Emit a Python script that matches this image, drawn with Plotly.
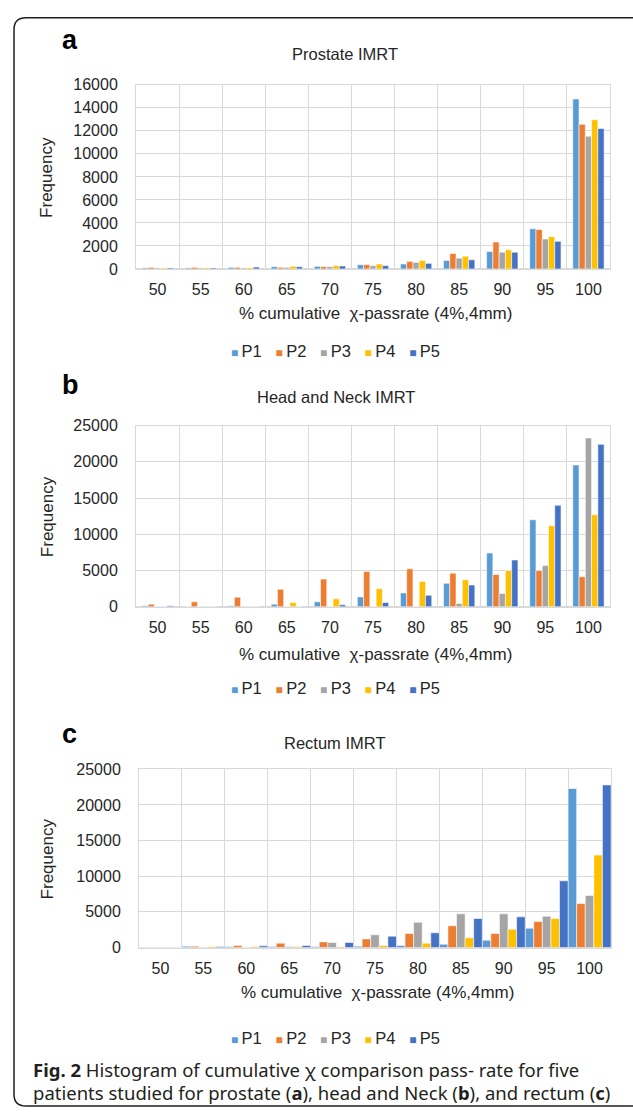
import plotly.graph_objects as go

W, H = 633, 1119

categories = ["50", "55", "60", "65", "70", "75", "80", "85", "90", "95", "100"]
series_names = ["P1", "P2", "P3", "P4", "P5"]
colors = ["#5B9BD5", "#ED7D31", "#A5A5A5", "#FFC000", "#4472C4"]

# Prostate IMRT
prostate_P1 = [90, 90, 140, 200, 230, 370, 430, 740, 1510, 3490, 14770]
prostate_P2 = [140, 140, 140, 140, 200, 370, 660, 1340, 2340, 3430, 12570]
prostate_P3 = [90, 90, 90, 140, 200, 290, 570, 940, 1460, 2600, 11540]
prostate_P4 = [90, 110, 110, 230, 290, 430, 740, 1110, 1660, 2800, 12970]
prostate_P5 = [90, 90, 170, 200, 260, 290, 490, 800, 1460, 2400, 12200]

# Head and Neck IMRT
hn_P1 = [140, 0, 140, 360, 680, 1360, 1910, 3230, 7410, 12000, 19550]
hn_P2 = [360, 680, 1320, 2410, 3820, 4860, 5230, 4640, 4450, 5000, 4140]
hn_P3 = [0, 0, 0, 0, 0, 0, 0, 450, 1820, 5680, 23270]
hn_P4 = [0, 0, 0, 590, 1090, 2500, 3500, 3730, 5000, 11180, 12680]
hn_P5 = [140, 0, 0, 0, 270, 590, 1590, 3000, 6450, 14000, 22410]

# Rectum IMRT
rectum_P1 = [0, 190, 140, 150, 140, 190, 280, 470, 1030, 2710, 22300]
rectum_P2 = [0, 190, 280, 610, 790, 1210, 1960, 3040, 1960, 3640, 6160]
rectum_P3 = [0, 0, 0, 150, 700, 1780, 3550, 4720, 4720, 4390, 7310]
rectum_P4 = [0, 140, 140, 150, 100, 280, 610, 1360, 2570, 4070, 12960]
rectum_P5 = [0, 140, 230, 280, 700, 1590, 2060, 4070, 4300, 9350, 22800]

titles = ["Prostate IMRT", "Head and Neck IMRT", "Rectum IMRT"]
letters = ["a", "b", "c"]
x_title = "% cumulative  χ-passrate (4%,4mm)"
y_title = "Frequency"
y_max = [16000, 25000, 25000]
y_step = [2000, 5000, 5000]

panel_data = [
    [prostate_P1, prostate_P2, prostate_P3, prostate_P4, prostate_P5],
    [hn_P1, hn_P2, hn_P3, hn_P4, hn_P5],
    [rectum_P1, rectum_P2, rectum_P3, rectum_P4, rectum_P5],
]


def px(x):
    return x / W


def py(y):
    return 1 - y / H


# layout geometry (pixels)
plot_x = [(136, 610), (136, 610), (139, 611)]
plot_y = [(78, 265), (424, 608), (773, 954)]
group_w = [0.727, 0.727, 1.0]
letter_pos = [(60, 33), (60, 383), (60, 737)]
title_pos = [(345, 47), (336, 395), (334, 746)]
xtitle_y = [310, 656, 1000]
legend_y = [348, 690, 1046]

GRID = "#d9d9d9"
TXT = "#262626"
FONT = "Arial, Liberation Sans, sans-serif"

fig = go.Figure()

for p in range(3):
    xa = "x" if p == 0 else f"x{p + 1}"
    ya = "y" if p == 0 else f"y{p + 1}"
    gw = group_w[p]
    bw = gw / 5
    for i, name in enumerate(series_names):
        fig.add_trace(go.Bar(
            x=categories,
            y=panel_data[p][i],
            name=name,
            xaxis=xa,
            yaxis=ya,
            width=bw,
            offset=-gw / 2 + i * bw,
            marker=dict(color=colors[i], line=dict(color="rgba(255,255,255,0.7)", width=0.8)),
            showlegend=False,
        ))

    xkey = "xaxis" if p == 0 else f"xaxis{p + 1}"
    ykey = "yaxis" if p == 0 else f"yaxis{p + 1}"
    fig.update_layout(**{
        xkey: dict(
            domain=[px(plot_x[p][0]), px(plot_x[p][1])],
            anchor=ya,
            type="category",
            categoryorder="array",
            categoryarray=categories,
            tickson="boundaries",
            showgrid=True,
            gridcolor=GRID,
            gridwidth=1,
            showline=True,
            linecolor=GRID,
            linewidth=1,
            mirror=True,
            ticks="",
            ticklabelstandoff=6,
            tickfont=dict(family=FONT, size=16, color=TXT),
            fixedrange=True,
        ),
        ykey: dict(
            domain=[py(plot_y[p][1]), py(plot_y[p][0])],
            anchor=xa,
            range=[0, y_max[p]],
            dtick=y_step[p],
            tick0=0,
            tickformat="d",
            showgrid=True,
            gridcolor=GRID,
            gridwidth=1,
            zeroline=True,
            zerolinecolor=GRID,
            showline=True,
            linecolor=GRID,
            mirror=True,
            ticks="",
            ticklabelstandoff=14,
            tickfont=dict(family=FONT, size=16, color=TXT),
            fixedrange=True,
        ),
    })

NB = "\u00a0"
legend_text = (NB * 3).join(
    f"<span style='color:{c};font-size:12px'>■{NB}</span>{n}" for c, n in zip(colors, series_names)
)

annotations = []
for p in range(3):
    cx = (plot_x[p][0] + plot_x[p][1]) / 2
    cy = (plot_y[p][0] + plot_y[p][1]) / 2
    annotations.append(dict(
        text=f"<b>{letters[p]}</b>", x=px(letter_pos[p][0]), y=py(letter_pos[p][1]),
        xref="paper", yref="paper", xanchor="left", yanchor="middle", showarrow=False,
        font=dict(family=FONT, size=27, color="#000000"),
    ))
    annotations.append(dict(
        text=titles[p], x=px(title_pos[p][0]), y=py(title_pos[p][1]),
        xref="paper", yref="paper", xanchor="center", yanchor="middle", showarrow=False,
        font=dict(family=FONT, size=16.5, color=TXT),
    ))
    annotations.append(dict(
        text=y_title, x=px(47), y=py(cy), textangle=-90,
        xref="paper", yref="paper", xanchor="center", yanchor="middle", showarrow=False,
        font=dict(family=FONT, size=17, color=TXT),
    ))
    annotations.append(dict(
        text=x_title, x=px(cx + 2), y=py(xtitle_y[p]),
        xref="paper", yref="paper", xanchor="center", yanchor="middle", showarrow=False,
        font=dict(family=FONT, size=17, color=TXT),
    ))
    annotations.append(dict(
        text=legend_text, x=px(335), y=py(legend_y[p]),
        xref="paper", yref="paper", xanchor="center", yanchor="middle", showarrow=False,
        font=dict(family=FONT, size=16.5, color=TXT),
    ))

CAP_FONT = "Noto Sans, Open Sans, sans-serif"
annotations.append(dict(
    text="<b>Fig. 2</b> Histogram of cumulative χ comparison pass- rate for five",
    x=px(31), y=py(1078), xref="paper", yref="paper", xanchor="left", yanchor="middle",
    showarrow=False, font=dict(family=CAP_FONT, size=18.5, color="#231f20"),
))
annotations.append(dict(
    text="patients studied for prostate (<b>a</b>), head and Neck (<b>b</b>), and rectum (<b>c</b>)",
    x=px(31), y=py(1101), xref="paper", yref="paper", xanchor="left", yanchor="middle",
    showarrow=False, font=dict(family=CAP_FONT, size=18.5, color="#231f20"),
))

# rounded figure frame
L, T, B, R, r = 14, 10, 1115, 660, 12
path = (f"M {px(R)},{py(T)} L {px(L + r)},{py(T)} Q {px(L)},{py(T)} {px(L)},{py(T + r)} "
        f"L {px(L)},{py(B - r)} Q {px(L)},{py(B)} {px(L + r)},{py(B)} L {px(R)},{py(B)}")
shapes = [dict(type="path", path=path, xref="paper", yref="paper",
               line=dict(color="#231f20", width=1.5))]

fig.update_layout(
    width=W,
    height=H,
    margin=dict(l=0, r=0, t=0, b=0),
    paper_bgcolor="white",
    plot_bgcolor="white",
    barmode="overlay",
    showlegend=False,
    annotations=annotations,
    shapes=shapes,
    font=dict(family=FONT, color=TXT),
)

post = (
    "document.documentElement.style.margin='0';"
    "document.documentElement.style.overflow='hidden';"
    "document.body.style.margin='0';"
    "document.body.style.overflow='hidden';"
    "var gd=document.getElementById('{plot_id}');"
    "gd.style.position='fixed';gd.style.left='0px';gd.style.top='0px';"
)

fig.write_html(
    "out.html",
    config={"displayModeBar": False},
    post_script=post,
)
